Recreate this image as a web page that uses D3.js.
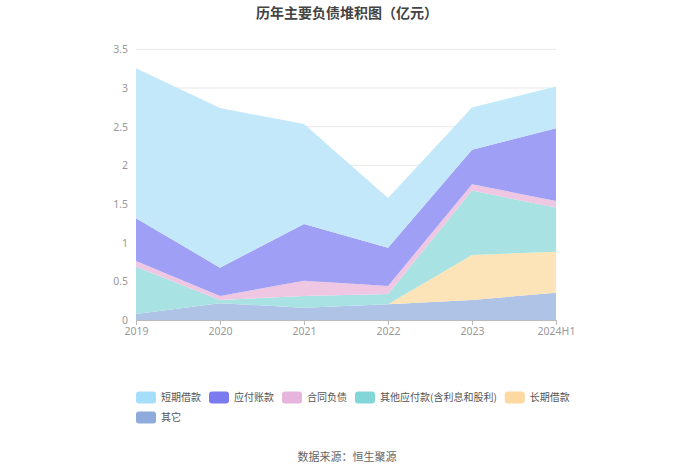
<!DOCTYPE html>
<html>
<head>
<meta charset="utf-8">
<script src="https://cdn.jsdelivr.net/npm/d3@7/dist/d3.min.js"></script>
<style>
  html, body { margin: 0; padding: 0; background: #fff; }
  svg { display: block; font-family: "Noto Sans CJK SC", "Noto Sans", sans-serif; }
</style>
</head>
<body>
<svg id="chart" width="700" height="474"></svg>
<script>
const categories = ["2019", "2020", "2021", "2022", "2023", "2024H1"];
const seriesNames = ["短期借款", "应付账款", "合同负债", "其他应付款(含利息和股利)", "长期借款", "其它"];
const shortLoans   = [1.94, 2.063, 1.293, 0.643, 0.547, 0.538];
const payables     = [0.553, 0.367, 0.733, 0.495, 0.445, 0.94];
const contractLiab = [0.073, 0.051, 0.199, 0.104, 0.082, 0.087];
const otherPayable = [0.612, 0.043, 0.15, 0.131, 0.832, 0.569];
const longLoans    = [0, 0, 0, 0, 0.582, 0.531];
const others       = [0.078, 0.216, 0.16, 0.205, 0.259, 0.353];
const yTicks = [0, 0.5, 1, 1.5, 2, 2.5, 3, 3.5];

const legendColors = ["#a5defa", "#7b7bef", "#e6b5dd", "#82d6d8", "#fdd8a0", "#8eabdb"];
const areaColors   = ["#c3e8fa", "#9f9ff6", "#efc7e3", "#a9e2e3", "#fde3b8", "#aec3e5"];

const seriesValues = [shortLoans, payables, contractLiab, otherPayable, longLoans, others];

const svg = d3.select("#chart");
const margin = { left: 136, right: 144, top: 49.3, bottom: 154 };
const W = 700, H = 474;

const x = d3.scalePoint().domain(categories).range([136, 556]);
const y = d3.scaleLinear().domain([0, 3.5]).range([320, 49.3]);

// grid
svg.append("g").selectAll("line").data(yTicks.filter(d => d > 0)).join("line")
  .attr("x1", 136).attr("x2", 556)
  .attr("y1", d => y(d)).attr("y2", d => y(d))
  .attr("stroke", "#e8e8e8").attr("stroke-width", 1);

// stacked data: bottom = 其它 ... top = 短期借款
const rows = categories.map((c, i) => {
  const r = { cat: c };
  seriesNames.forEach((n, k) => r[n] = seriesValues[k][i]);
  return r;
});
const stackOrder = seriesNames.slice().reverse();
const stack = d3.stack().keys(stackOrder);
const layers = stack(rows);

const area = d3.area()
  .x(d => x(d.data.cat))
  .y0(d => y(d[0]))
  .y1(d => y(d[1]));

svg.append("g").selectAll("path").data(layers).join("path")
  .attr("d", area)
  .attr("fill", d => areaColors[seriesNames.indexOf(d.key)])
  .attr("stroke", "none");

// y axis labels
const yAxis = d3.axisLeft(y).tickValues(yTicks).tickSize(0).tickPadding(8)
  .tickFormat(d => d3.format("~g")(d));
const yg = svg.append("g").attr("transform", "translate(136,0)").call(yAxis);
yg.select(".domain").remove();
yg.selectAll("text").attr("fill", "#999").style("font-size", "10.5px")
  .style("font-family", "'Noto Sans', sans-serif");

// x axis
const xAxis = d3.axisBottom(x).tickSize(5).tickPadding(3);
const xg = svg.append("g").attr("transform", "translate(0,320)").call(xAxis);
xg.select(".domain").attr("stroke", "#bbb").attr("d", "M136,0.5H556");
xg.selectAll(".tick line").attr("stroke", "#bbb");
xg.selectAll("text").attr("fill", "#999").style("font-size", "10.5px")
  .style("font-family", "'Noto Sans', sans-serif");

// title
svg.append("text").attr("x", 347).attr("y", 18).attr("text-anchor", "middle")
  .attr("fill", "#444").style("font-size", "14px").style("font-weight", "bold")
  .text("历年主要负债堆积图（亿元）");

// legend
const legend = svg.append("g");
let lx = 136;
const rowY = [397.5, 417.5];
const rowOf = [0, 0, 0, 0, 0, 1];
seriesNames.forEach((n, i) => {
  const r = rowOf[i];
  if (i === 5) lx = 136;
  const g = legend.append("g");
  g.append("rect").attr("x", lx).attr("y", rowY[r] - 6).attr("width", 20).attr("height", 12)
    .attr("rx", 3).attr("fill", legendColors[i]);
  const t = g.append("text").attr("x", lx + 25).attr("y", rowY[r]).attr("dy", "0.35em")
    .attr("fill", "#555").style("font-size", "10px").text(n);
  const w = t.node().getComputedTextLength();
  lx = lx + 25 + w + 8;
});

// source
svg.append("text").attr("x", 347).attr("y", 461).attr("text-anchor", "middle")
  .attr("fill", "#666").style("font-size", "11px").text("数据来源：恒生聚源");
</script>
</body>
</html>
